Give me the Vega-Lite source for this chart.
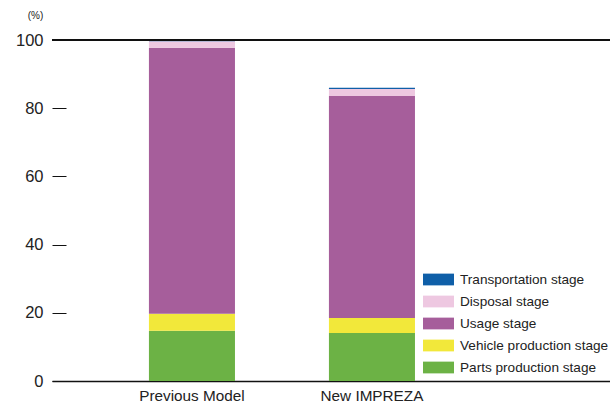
{
  "$schema": "https://vega.github.io/schema/vega-lite/v6.json",
  "width": 558,
  "height": 341,
  "autosize": {"type": "none"},
  "padding": {"left": 52, "top": 40, "right": 0, "bottom": 22},
  "background": "white",
  "config": {
    "view": {"stroke": null},
    "font": "Liberation Sans",
    "axis": {"labelFont": "Liberation Sans", "labelColor": "#222", "titleColor": "#222"}
  },
  "data": {
    "values": [
      {"model": "Previous Model", "stage": "Parts production stage", "stage_order": 1, "value": 14.7},
      {"model": "Previous Model", "stage": "Vehicle production stage", "stage_order": 2, "value": 5.0},
      {"model": "Previous Model", "stage": "Usage stage", "stage_order": 3, "value": 78.0},
      {"model": "Previous Model", "stage": "Disposal stage", "stage_order": 4, "value": 1.9},
      {"model": "Previous Model", "stage": "Transportation stage", "stage_order": 5, "value": 0.4},
      {"model": "New IMPREZA", "stage": "Parts production stage", "stage_order": 1, "value": 14.1},
      {"model": "New IMPREZA", "stage": "Vehicle production stage", "stage_order": 2, "value": 4.4},
      {"model": "New IMPREZA", "stage": "Usage stage", "stage_order": 3, "value": 65.1},
      {"model": "New IMPREZA", "stage": "Disposal stage", "stage_order": 4, "value": 2.0},
      {"model": "New IMPREZA", "stage": "Transportation stage", "stage_order": 5, "value": 0.4}
    ]
  },
  "layer": [
    {
      "mark": {"type": "bar"},
      "encoding": {
        "x": {
          "field": "model", "type": "nominal",
          "sort": ["Previous Model", "New IMPREZA"],
          "scale": {"paddingInner": 0.522, "paddingOuter": 0.811, "align": 0.332},
          "axis": {"title": null, "labelAngle": 0, "ticks": false, "labelFontSize": 15.3, "labelPadding": 7, "domainColor": "#111", "domainWidth": 1.5}
        },
        "y": {
          "field": "value", "type": "quantitative", "stack": "zero",
          "scale": {"domain": [0, 100], "nice": false},
          "axis": {
            "values": [0, 20, 40, 60, 80, 100],
            "grid": false, "domain": false, "offset": -14,
            "tickSize": 14, "tickColor": "#111", "tickWidth": 1,
            "labelFontSize": 16.5, "labelPadding": 9,
            "title": "(%)", "titleAngle": 0, "titleFontSize": 10, "titleFontWeight": "normal",
            "titleX": -31, "titleY": -25, "titleAlign": "center", "titleBaseline": "middle"
          }
        },
        "color": {
          "field": "stage", "type": "nominal",
          "scale": {
            "domain": ["Transportation stage", "Disposal stage", "Usage stage", "Vehicle production stage", "Parts production stage"],
            "range": ["#0f5fa8", "#eec8e1", "#a65e9b", "#f2e83a", "#6cb245"]
          },
          "legend": {
            "title": null, "orient": "none", "legendX": 374.5, "legendY": 227.5,
            "symbolType": "M-1.29,-0.49H1.29V0.49H-1.29Z", "symbolSize": 576, "symbolStrokeWidth": 0, "symbolOpacity": 1,
            "labelFontSize": 13.6, "labelColor": "#222", "labelOffset": 9.5, "rowPadding": 3, "padding": 0
          }
        },
        "order": {"field": "stage_order", "type": "quantitative", "sort": "ascending"}
      }
    },
    {
      "mark": {"type": "rule", "color": "#111", "strokeWidth": 1.5},
      "encoding": {"y": {"datum": 100}}
    }
  ]
}
